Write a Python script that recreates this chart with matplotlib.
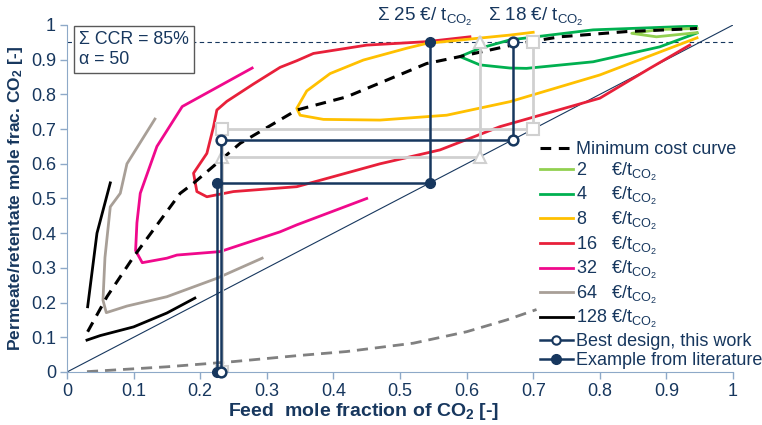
import matplotlib
matplotlib.use("Agg")
import matplotlib.pyplot as plt
from matplotlib.lines import Line2D

plt.rcParams['font.family'] = ['Liberation Sans', 'DejaVu Sans']
plt.rcParams['mathtext.fontset'] = 'custom'
plt.rcParams['mathtext.rm'] = 'Liberation Sans'
plt.rcParams['mathtext.it'] = 'Liberation Sans:italic'
plt.rcParams['mathtext.bf'] = 'Liberation Sans:bold'

navy = '#17375E'
spine_col = '#8EA9C8'

# cost curves (feed x, permeate/retentate y)
c2_x = [0.946, 0.89, 0.848, 0.885, 0.946]
c2_y = [0.990, 0.987, 0.976, 0.966, 0.978]

c4_x = [0.945, 0.79, 0.665, 0.62, 0.59, 0.62, 0.665, 0.69, 0.79, 0.89, 0.946]
c4_y = [0.997, 0.986, 0.957, 0.933, 0.909, 0.885, 0.876, 0.875, 0.894, 0.937, 0.977]

c8_x = [0.70, 0.665, 0.54, 0.51, 0.445, 0.395, 0.36, 0.345, 0.35, 0.385, 0.47, 0.57, 0.665, 0.80, 0.946]
c8_y = [0.979, 0.971, 0.947, 0.933, 0.899, 0.86, 0.81, 0.76, 0.74, 0.728, 0.726, 0.74, 0.779, 0.856, 0.963]

c16_x = [0.605, 0.54, 0.45, 0.37, 0.345, 0.32, 0.28, 0.24, 0.225, 0.22, 0.21, 0.19, 0.195, 0.21, 0.25, 0.345,
         0.47, 0.56, 0.65, 0.80, 0.875, 0.935]
c16_y = [0.966, 0.952, 0.942, 0.918, 0.897, 0.878, 0.83, 0.78, 0.755, 0.707, 0.63, 0.573, 0.52, 0.505, 0.52, 0.534,
         0.60, 0.64, 0.707, 0.789, 0.875, 0.942]

c32_x = [0.278, 0.173, 0.135, 0.11, 0.105, 0.103, 0.113, 0.15, 0.165, 0.23, 0.32, 0.345, 0.45]
c32_y = [0.876, 0.765, 0.65, 0.515, 0.43, 0.35, 0.315, 0.328, 0.337, 0.347, 0.404, 0.424, 0.50]

c64_x = [0.132, 0.09, 0.08, 0.065, 0.057, 0.054, 0.059, 0.09, 0.15, 0.225, 0.293]
c64_y = [0.729, 0.60, 0.515, 0.476, 0.33, 0.207, 0.171, 0.19, 0.217, 0.27, 0.328]

c128_x = [0.065, 0.045, 0.031, float('nan'), 0.03, 0.05, 0.10, 0.15, 0.192]
c128_y = [0.545, 0.40, 0.188, float('nan'), 0.092, 0.105, 0.13, 0.17, 0.213]

min_x = [0.031, 0.06, 0.10, 0.17, 0.19, 0.26, 0.345, 0.42, 0.54, 0.59, 0.68, 0.74, 0.84, 0.946]
min_y = [0.116, 0.217, 0.332, 0.515, 0.544, 0.659, 0.755, 0.793, 0.889, 0.909, 0.947, 0.966, 0.981, 0.99]

grey_x = [0.03, 0.15, 0.25, 0.345, 0.42, 0.52, 0.60, 0.66, 0.705]
grey_y = [0.001, 0.015, 0.03, 0.047, 0.059, 0.083, 0.116, 0.15, 0.18]

# design paths
lit_x = [0.545, 0.545, 0.225, 0.225]
lit_y = [0.95, 0.545, 0.545, 0.0]
work_x = [0.67, 0.67, 0.231, 0.231]
work_y = [0.95, 0.67, 0.67, 0.0]
tri_x = [0.62, 0.62, 0.233, 0.233]
tri_y = [0.95, 0.62, 0.62, 0.0]
sq_x = [0.70, 0.70, 0.233, 0.233]
sq_y = [0.95, 0.70, 0.70, 0.0]

ticks = [0, 0.1, 0.2, 0.3, 0.4, 0.5, 0.6, 0.7, 0.8, 0.9, 1]
tick_labels = ['0', '0.1', '0.2', '0.3', '0.4', '0.5', '0.6', '0.7', '0.8', '0.9', '1']

fig = plt.figure(figsize=(7.62, 4.25), dpi=100)
ax = fig.add_axes([67 / 762, 1 - 372 / 425, 666 / 762, 347 / 425])

ax.plot([0, 1], [0, 1], color=navy, lw=0.8)
ax.axhline(0.95, color=navy, lw=0.8, ls=(0, (4, 3)))
ax.plot(grey_x, grey_y, color='#808080', lw=2, ls=(0, (4, 2.5)))

cost = '€/t$_{\\mathrm{CO_2}}$'
ax.plot(c128_x, c128_y, color='black', lw=2)
ax.plot(c64_x, c64_y, color='#A89F97', lw=2)
ax.plot(c32_x, c32_y, color='#F0098C', lw=2)
ax.plot(c16_x, c16_y, color='#E8203A', lw=2)
ax.plot(c8_x, c8_y, color='#FFC000', lw=2)
ax.plot(c4_x, c4_y, color='#00B050', lw=2)
ax.plot(c2_x, c2_y, color='#92D050', lw=2)
ax.plot(min_x, min_y, color='black', lw=2.2, ls=(0, (3.5, 2.5)))

ax.plot(sq_x, sq_y, color='#D0D0D0', lw=2, marker='s', ms=8, mfc='white', mec='#D0D0D0', mew=1.5)
ax.plot(tri_x, tri_y, color='#D0D0D0', lw=2, marker='^', ms=8, mfc='white', mec='#D0D0D0', mew=1.5)
ax.plot(lit_x, lit_y, color=navy, lw=1.8, marker='o', ms=7, mfc=navy, mec=navy, clip_on=False, zorder=5)
ax.plot(work_x, work_y, color=navy, lw=1.8, marker='o', ms=7, mfc='white', mec=navy, mew=1.8,
        clip_on=False, zorder=5)

ax.text(0.018, 0.982, 'Σ CCR = 85%\nα = 50', color=navy, fontsize=12.8, va='top', ha='left',
        linespacing=1.2,
        bbox=dict(boxstyle='square,pad=0.3', fc='white', ec='#595959', lw=1), zorder=6)
ax.text(0.537, 1.022, 'Σ 25 €/ t$_{\\mathrm{CO_2}}$', color=navy, fontsize=13.5, ha='center', va='center')
ax.text(0.704, 1.022, 'Σ 18 €/ t$_{\\mathrm{CO_2}}$', color=navy, fontsize=13.5, ha='center', va='center')

ax.set_xlim(0, 1)
ax.set_ylim(0, 1)
ax.set_xticks(ticks)
ax.set_xticklabels(tick_labels)
ax.set_yticks(ticks)
ax.set_yticklabels(tick_labels)
ax.tick_params(colors=spine_col, labelcolor=navy, labelsize=13, length=5, width=1, pad=3)
for s in ['top', 'right']:
    ax.spines[s].set_visible(False)
for s in ['left', 'bottom']:
    ax.spines[s].set_color(spine_col)
fig.text(364 / 762, 1 - 412 / 425, 'Feed  mole fraction of CO$_\\mathbf{2}$ [-]', fontsize=14,
         fontweight='bold', color=navy, ha='center', va='center')
ax.set_ylabel('Permeate/retentate mole frac. CO$_\\mathbf{2}$ [-]', fontsize=12.5, fontweight='bold',
              color=navy, labelpad=4)

handles = [
    Line2D([], [], color='black', lw=2.2, ls=(0, (3.5, 2.5))),
    Line2D([], [], color='#92D050', lw=2),
    Line2D([], [], color='#00B050', lw=2),
    Line2D([], [], color='#FFC000', lw=2),
    Line2D([], [], color='#E8203A', lw=2),
    Line2D([], [], color='#F0098C', lw=2),
    Line2D([], [], color='#A89F97', lw=2),
    Line2D([], [], color='black', lw=2),
    Line2D([], [], color=navy, lw=1.8, marker='o', ms=6, mfc='white', mec=navy, mew=1.5),
    Line2D([], [], color=navy, lw=1.8, marker='o', ms=7, mfc=navy, mec=navy),
]
labels = ['Minimum cost curve',
          '2     ' + cost, '4     ' + cost, '8     ' + cost,
          '16   ' + cost, '32   ' + cost, '64   ' + cost, '128 ' + cost,
          'Best design, this work', 'Example from literature']
leg = fig.legend(handles, labels, loc='upper left', bbox_to_anchor=(540 / 762, 1 - 141 / 425),
                 frameon=False, fontsize=13, handlelength=1.8, handletextpad=0.2,
                 labelspacing=0.14, borderpad=0, borderaxespad=0)
for t in leg.get_texts():
    t.set_color(navy)

fig.savefig('out.png', dpi=100)
